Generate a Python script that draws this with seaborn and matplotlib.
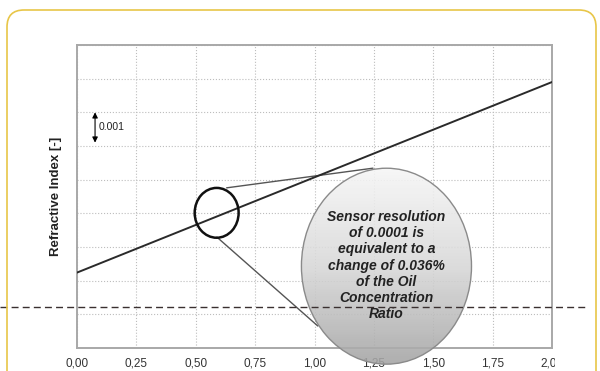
import numpy as np
import pandas as pd
import matplotlib
matplotlib.use("Agg")
import matplotlib.pyplot as plt
import seaborn as sns
from matplotlib.patches import Ellipse, FancyBboxPatch, Rectangle
from matplotlib.lines import Line2D
import matplotlib.colors as mcolors

# data
oil_ratio = [0.0, 1.0, 2.0]
refr_index = [1.46224, 1.46507, 1.46790]
x_ticks = [0.0, 0.25, 0.5, 0.75, 1.0, 1.25, 1.5, 1.75, 2.0]
x_tick_labels = ["0,00", "0,25", "0,50", "0,75", "1,00", "1,25", "1,50", "1,75", "2,00"]
y_ticks = [1.460, 1.461, 1.462, 1.463, 1.464, 1.465, 1.466, 1.467, 1.468, 1.469]

df = pd.DataFrame({"ratio": oil_ratio, "ri": refr_index})

sns.set_style("white")
plt.rcParams["font.family"] = ["Liberation Sans", "DejaVu Sans"]

fig = plt.figure(figsize=(6, 3.71), dpi=100)
ax = fig.add_axes([77 / 600, 23 / 371, 475 / 600, 303 / 371])

sns.lineplot(data=df, x="ratio", y="ri", color="#2a2a2a", linewidth=1.4, ax=ax, zorder=3)

ax.set_xlim(0, 2.0)
ax.set_ylim(y_ticks[0], y_ticks[-1])
ax.set_xticks(x_ticks)
ax.set_xticklabels(x_tick_labels)
ax.set_yticks(y_ticks)
ax.set_yticklabels([])
ax.set_xlabel("")
ax.set_ylabel("Refractive Index [-]", fontsize=9.5, fontweight="bold", color="#222222", labelpad=7)
ax.grid(True, linestyle=":", color="#bdbdbd", linewidth=0.8)
ax.tick_params(axis="x", length=0, labelsize=8.5, labelcolor="#333333", pad=7)
ax.tick_params(axis="y", length=0)
for s in ax.spines.values():
    s.set_color("#a8a8a8")
    s.set_linewidth(1.4)

# small circle around the line
ax.add_patch(Ellipse((0.588, 1.464015), 0.185, 0.00148, fill=False, edgecolor="#111111",
                     linewidth=1.8, zorder=4))

# connector lines
ax.plot([0.630, 1.246], [1.464757, 1.465341], color="#555555", linewidth=1.0, zorder=2)
ax.plot([0.589, 1.014], [1.463294, 1.460653], color="#555555", linewidth=1.0, zorder=2)

# big gradient ellipse
ecx, ecy, ew, eh = 1.303, 1.46243, 0.716, 0.00582
big = Ellipse((ecx, ecy), ew, eh, facecolor="none", edgecolor="#8a8a8a", linewidth=1.0,
              zorder=5, clip_on=False)
ax.add_patch(big)
cmap = mcolors.LinearSegmentedColormap.from_list("g", ["#f6f6f6", "#d8d8d8", "#a4a4a4"])
grad = np.linspace(0, 1, 256).reshape(-1, 1)
im = ax.imshow(grad, cmap=cmap, aspect="auto", alpha=0.88,
               extent=[ecx - ew / 2, ecx + ew / 2, ecy - eh / 2, ecy + eh / 2],
               origin="upper", zorder=4.5)
im.set_clip_path(big)
im.set_clip_box(fig.bbox)
ax.set_xlim(0, 2.0)
ax.set_ylim(y_ticks[0], y_ticks[-1])

ax.text(ecx, 1.46245, "Sensor resolution\nof 0.0001 is\nequivalent to a\nchange of 0.036%\nof the Oil\nConcentration\nRatio",
        ha="center", va="center", fontsize=10, fontweight="bold", fontstyle="italic",
        color="#222222", linespacing=1.2, zorder=6)

# 0.001 scale arrow
ax.annotate("", xy=(0.076, 1.4670), xytext=(0.076, 1.4661),
            arrowprops=dict(arrowstyle="<|-|>", color="black", lw=0.8,
                            mutation_scale=8, shrinkA=0, shrinkB=0), zorder=6)
ax.text(0.092, 1.46655, "0.001", fontsize=7.5, va="center", ha="left", color="#222222")

# dashed line across the figure
fig.add_artist(Line2D([0, 585 / 600], [1 - 306.7 / 371] * 2, color="#3a3030",
                      linewidth=1.0, linestyle=(0, (5, 3)), transform=fig.transFigure, zorder=10))

# crop of the last tick label
fig.add_artist(Rectangle((5.545, 0.0), 0.4, 0.2, transform=fig.dpi_scale_trans,
                         facecolor="white", edgecolor="none", zorder=11))

# card border
fig.add_artist(FancyBboxPatch((0.07, -0.6), 5.89, 4.21, boxstyle="round,pad=0,rounding_size=0.17",
                              transform=fig.dpi_scale_trans, facecolor="none",
                              edgecolor="#e8c648", linewidth=1.2, zorder=12))

fig.savefig("out.png", dpi=100)
